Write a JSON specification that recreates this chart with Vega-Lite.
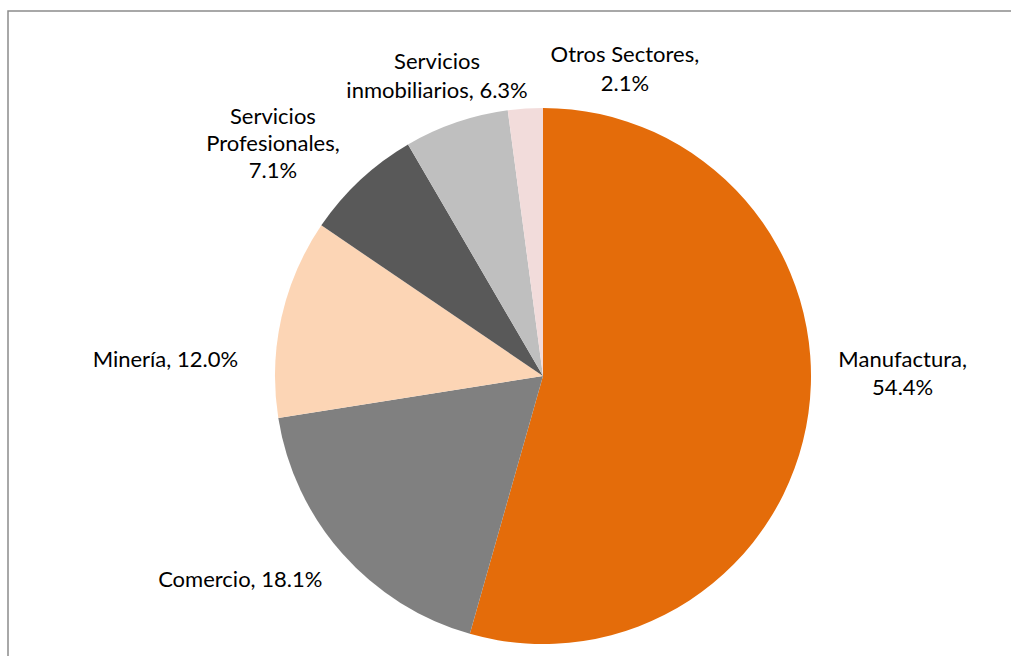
{
  "$schema": "https://vega.github.io/schema/vega-lite/v6.json",
  "width": 1070,
  "height": 730,
  "autosize": {"type": "none"},
  "padding": {"left": 8, "top": 11, "right": 0, "bottom": 0},
  "background": "white",
  "view": {"stroke": "#8c8c8c", "strokeWidth": 1.5},
  "data": {
    "values": [
      {"sector": "Manufactura", "value": 54.4, "order": 1, "label": "Manufactura,\n54.4%"},
      {"sector": "Comercio", "value": 18.1, "order": 2, "label": "Comercio, 18.1%"},
      {"sector": "Minería", "value": 12.0, "order": 3, "label": "Minería, 12.0%"},
      {"sector": "Servicios Profesionales", "value": 7.1, "order": 4, "label": "Servicios\nProfesionales,\n7.1%"},
      {"sector": "Servicios inmobiliarios", "value": 6.3, "order": 5, "label": "Servicios\ninmobiliarios, 6.3%"},
      {"sector": "Otros Sectores", "value": 2.1, "order": 6, "label": "Otros Sectores,\n2.1%"}
    ]
  },
  "transform": [
    {"stack": "value", "groupby": [], "sort": [{"field": "order", "order": "ascending"}], "as": ["v0", "v1"]},
    {"calculate": "(datum.v0 + datum.v1) / 2", "as": "mid"}
  ],
  "layer": [
    {
      "mark": {"type": "arc", "outerRadius": 268},
      "encoding": {
        "theta": {"field": "v0", "type": "quantitative", "stack": null, "scale": {"domain": [0, 100]}},
        "theta2": {"field": "v1"},
        "color": {
          "field": "sector",
          "type": "nominal",
          "scale": {
            "domain": ["Manufactura", "Comercio", "Minería", "Servicios Profesionales", "Servicios inmobiliarios", "Otros Sectores"],
            "range": ["#E46C0A", "#808080", "#FCD5B5", "#595959", "#BFBFBF", "#F2DCDB"]
          },
          "legend": null
        }
      }
    },
    {
      "transform": [{"filter": "datum.sector == 'Manufactura'"}],
      "mark": {"type": "text", "radius": 360, "thetaOffset": -0.182, "font": "Lato", "fontSize": 22, "lineHeight": 28, "lineBreak": "\n", "baseline": "middle", "align": "center", "color": "#000000"},
      "encoding": {"theta": {"field": "mid", "type": "quantitative", "stack": null, "scale": {"domain": [0, 100]}}, "text": {"field": "label"}}
    },
    {
      "transform": [{"filter": "datum.sector == 'Comercio'"}],
      "mark": {"type": "text", "radius": 365, "thetaOffset": 0.133, "font": "Lato", "fontSize": 22, "lineHeight": 28, "lineBreak": "\n", "baseline": "middle", "align": "center", "color": "#000000"},
      "encoding": {"theta": {"field": "mid", "type": "quantitative", "stack": null, "scale": {"domain": [0, 100]}}, "text": {"field": "label"}}
    },
    {
      "transform": [{"filter": "datum.sector == 'Minería'"}],
      "mark": {"type": "text", "radius": 378, "thetaOffset": -0.178, "font": "Lato", "fontSize": 22, "lineHeight": 28, "lineBreak": "\n", "baseline": "middle", "align": "center", "color": "#000000"},
      "encoding": {"theta": {"field": "mid", "type": "quantitative", "stack": null, "scale": {"domain": [0, 100]}}, "text": {"field": "label"}}
    },
    {
      "transform": [{"filter": "datum.sector == 'Servicios Profesionales'"}],
      "mark": {"type": "text", "radius": 374, "thetaOffset": -0.056, "font": "Lato", "fontSize": 22, "lineHeight": 27, "lineBreak": "\n", "baseline": "middle", "align": "center", "color": "#000000"},
      "encoding": {"theta": {"field": "mid", "type": "quantitative", "stack": null, "scale": {"domain": [0, 100]}}, "text": {"field": "label"}}
    },
    {
      "transform": [{"filter": "datum.sector == 'Servicios inmobiliarios'"}],
      "mark": {"type": "text", "radius": 331, "thetaOffset": 0.004, "font": "Lato", "fontSize": 22, "lineHeight": 29, "lineBreak": "\n", "baseline": "middle", "align": "center", "color": "#000000"},
      "encoding": {"theta": {"field": "mid", "type": "quantitative", "stack": null, "scale": {"domain": [0, 100]}}, "text": {"field": "label"}}
    },
    {
      "transform": [{"filter": "datum.sector == 'Otros Sectores'"}],
      "mark": {"type": "text", "radius": 331, "thetaOffset": 0.316, "font": "Lato", "fontSize": 22, "lineHeight": 29, "lineBreak": "\n", "baseline": "middle", "align": "center", "color": "#000000"},
      "encoding": {"theta": {"field": "mid", "type": "quantitative", "stack": null, "scale": {"domain": [0, 100]}}, "text": {"field": "label"}}
    }
  ]
}
